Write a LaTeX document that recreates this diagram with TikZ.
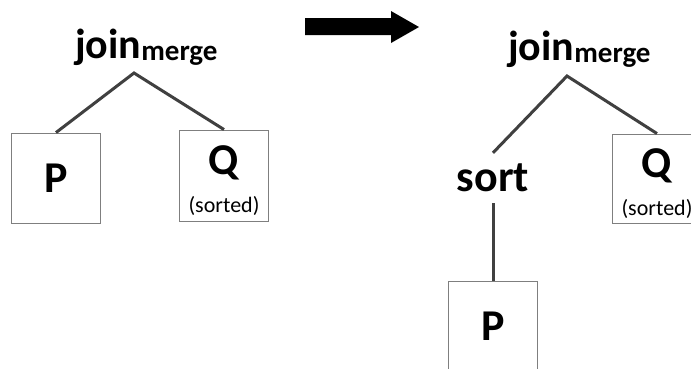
\documentclass[tikz,border=0pt]{standalone}
\usepackage{fontspec}
\setmainfont{Carlito}
\usetikzlibrary{positioning}
\definecolor{edgegray}{HTML}{404040}
\definecolor{boxgray}{HTML}{7F7F7F}
\tikzset{
    %Define style for operator labels
    op/.style={
           inner sep=0pt,
           font=\fontsize{42}{46}\selectfont\bfseries},
    %Define style for relation names
    relname/.style={
           op,
           font=\fontsize{44}{48}\selectfont\bfseries},
    %Define style for relation boxes
    rel/.style={
           rectangle,
           draw=boxgray, line width=0.9pt,
           minimum width=89pt,
           minimum height=90pt,
           inner sep=0pt},
    %Define style for small notes
    note/.style={
           inner sep=0pt,
           font=\fontsize{22}{24}\selectfont},
    % Define edge style
    edge/.style={
           draw=edgegray,
           line width=3pt}
}
\newcommand{\joinmerge}{join\raisebox{-2pt}{\fontsize{29}{30}\selectfont merge}}

\begin{document}
\begin{tikzpicture}[x=1pt, y=-1pt]
    \useasboundingbox (0,0) rectangle (691,368);
    \clip (0,0) rectangle (691,368);
 %left tree
    \node[op, anchor=base west] (join1) at (75,58) {\joinmerge};
    \coordinate (apex1) at (134,73);
    \node[rel] (p1) at (56,178) {};
    \node[relname] at (p1) {P};
    \node[rel, minimum height=91pt] (q1) at (224,175.5) {};
    \node[relname, anchor=base] (q1name) at (224,174) {Q};
    \node[note, anchor=base] (q1note) at (224,212) {(sorted)};
    \draw[edge] (p1.north) -- (apex1) -- (q1.north);
 %arrow
    \fill (305,18) -- (391,18) -- (391,11) -- (419,27) -- (391,43) -- (391,35) -- (305,35) -- cycle;
 %right tree
    \node[op, anchor=base west] (join2) at (508,60) {\joinmerge};
    \coordinate (apex2) at (567,76);
    \node[relname, minimum height=50pt] (sort) at (493,178) {sort};
    \node[rel, minimum height=89pt] (q2) at (657,178.5) {};
    \node[relname, anchor=base] (q2name) at (657,177) {Q};
    \node[note, anchor=base] (q2note) at (657,215) {(sorted)};
    \node[rel, below=103pt of sort.center] (p2) {};
    \node[relname] at (p2) {P};
    \draw[edge] (sort.north -| p2.north) -- (apex2) -- (q2.north);
    \draw[edge] (sort.south -| p2.north) -- (p2.north);
\end{tikzpicture}
\end{document}
